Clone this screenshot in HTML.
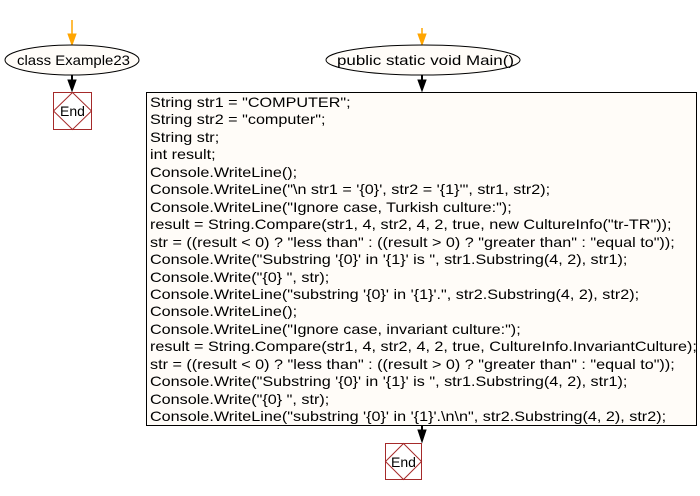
<!DOCTYPE html>
<html><head><style>
body{margin:0;width:700px;height:496px;background:#fff;position:relative;overflow:hidden;font-family:"Liberation Sans",sans-serif;}
.box{position:absolute;left:146px;top:92px;width:549px;height:332px;border:1px solid #000;background:#fffcf8;}
.code{position:absolute;left:150px;top:94px;font-size:14px;line-height:17.45px;white-space:pre;color:#000;transform:scaleX(1.155);transform-origin:0 0;}
</style></head><body>
<svg width="700" height="496" style="position:absolute;left:0;top:0">
<g fill="#ffa500" stroke="#ffa500">
<line x1="72" y1="20" x2="72" y2="38" stroke-width="1.5"/><polygon points="68,34 76,34 72,45"/>
<line x1="422" y1="28" x2="422" y2="38" stroke-width="1.5"/><polygon points="418,34 426,34 422,45"/>
</g>
<ellipse cx="72" cy="60" rx="67" ry="15" fill="#fffcf8" stroke="#000"/>
<ellipse cx="423" cy="60" rx="97" ry="15" fill="#fffcf8" stroke="#000"/>
<text x="17" y="65" font-size="14" textLength="113" lengthAdjust="spacingAndGlyphs" font-family="Liberation Sans">class Example23</text>
<text x="337" y="65" font-size="14" textLength="177" lengthAdjust="spacingAndGlyphs" font-family="Liberation Sans">public static void Main()</text>
<g fill="#000" stroke="#000">
<line x1="72" y1="75" x2="72" y2="84" stroke-width="2"/><polygon points="68,80 76,80 72,91"/>
<line x1="422" y1="75" x2="422" y2="84" stroke-width="2"/><polygon points="418,80 426,80 422,91"/>
<line x1="422" y1="425" x2="422" y2="434" stroke-width="2"/><polygon points="418,430 426,430 422,442"/>
</g>
<g fill="#fff" stroke="#a52a2a">
<rect x="53.5" y="92.5" width="38" height="37"/>
<polygon points="72.5,92.5 91.5,111 72.5,129.5 53.5,111" fill="none"/>
<rect x="385.5" y="443.5" width="36" height="36"/>
<polygon points="403.5,443.5 421.5,461.5 403.5,479.5 385.5,461.5" fill="none"/>
</g>
<text x="72.5" y="116" font-size="14" text-anchor="middle" font-family="Liberation Sans">End</text>
<text x="403.5" y="467" font-size="14" text-anchor="middle" font-family="Liberation Sans">End</text>
</svg>
<div class="box"></div>
<div class="code">String str1 = "COMPUTER";
String str2 = "computer";
String str;
int result;
Console.WriteLine();
Console.WriteLine("\n str1 = '{0}', str2 = '{1}'", str1, str2);
Console.WriteLine("Ignore case, Turkish culture:");
result = String.Compare(str1, 4, str2, 4, 2, true, new CultureInfo("tr-TR"));
str = ((result &lt; 0) ? "less than" : ((result &gt; 0) ? "greater than" : "equal to"));
Console.Write("Substring '{0}' in '{1}' is ", str1.Substring(4, 2), str1);
Console.Write("{0} ", str);
Console.WriteLine("substring '{0}' in '{1}'.", str2.Substring(4, 2), str2);
Console.WriteLine();
Console.WriteLine("Ignore case, invariant culture:");
result = String.Compare(str1, 4, str2, 4, 2, true, CultureInfo.InvariantCulture);
str = ((result &lt; 0) ? "less than" : ((result &gt; 0) ? "greater than" : "equal to"));
Console.Write("Substring '{0}' in '{1}' is ", str1.Substring(4, 2), str1);
Console.Write("{0} ", str);
Console.WriteLine("substring '{0}' in '{1}'.\n\n", str2.Substring(4, 2), str2);</div>
</body></html>
